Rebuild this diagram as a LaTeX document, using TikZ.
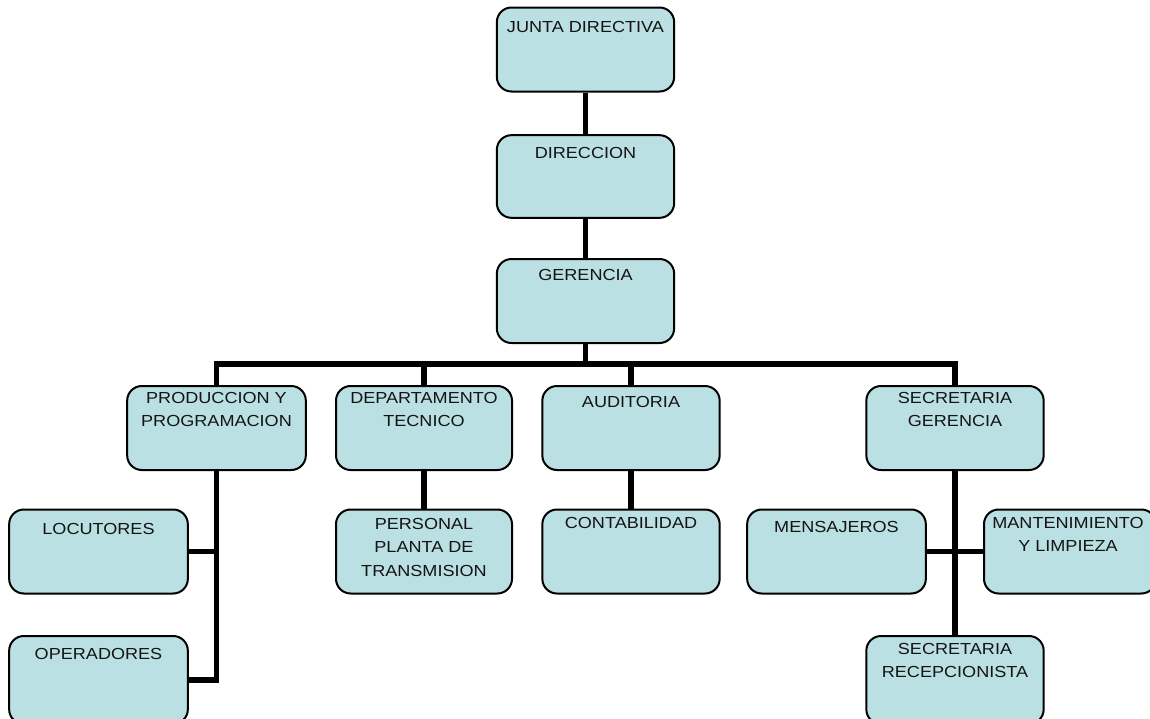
\documentclass[tikz,border=0pt]{standalone}
\usepackage{fontspec}
\newfontfamily\arx[FakeStretch=1.13]{Liberation Sans}
\pgfdeclarelayer{bg}
\pgfsetlayers{bg,main}
\definecolor{boxfill}{RGB}{187,224,227}
\definecolor{txt}{RGB}{20,20,20}
\tikzset{
  box/.style={draw=black, line width=1.5pt, fill=boxfill, rounded corners=11pt, inner sep=0pt, minimum width=133pt, minimum height=63pt},
  lbl/.style={anchor=north, inner sep=0pt, align=center, text=txt, font=\arx\fontsize{12}{17.6}\selectfont},
  conn/.style={draw=black, line width=4.4pt}
}
\begin{document}
\begin{tikzpicture}[x=0.75pt, y=-0.75pt]
\useasboundingbox (0,0) rectangle (1150,718);
\clip (0,0) rectangle (1150,718);
% boxes
\node[box] (jd)  at (585.5,49.5) {};
\node[box, minimum height=62pt] (dir) at (585.5,176.5) {};
\node[box] (ger) at (585.5,301) {};
\node[box, minimum width=134pt] (prod) at (216.5,428) {};
\node[box, minimum width=132pt] (dep) at (424,428) {};
\node[box] (aud) at (631,428) {};
\node[box] (sec) at (955,428) {};
\node[box, minimum width=134pt] (loc) at (98.5,551.5) {};
\node[box, minimum width=134pt, minimum height=66pt] (ope) at (98.5,680) {};
\node[box, minimum width=132pt] (per) at (424,551.5) {};
\node[box] (con) at (631,551.5) {};
\node[box, minimum width=134pt] (men) at (836.5,551.5) {};
\node[box, minimum width=129pt] (man) at (1070,551.5) {};
\node[box, minimum height=66pt] (rec) at (955,680) {};
% labels
\node[lbl] (tjd) at (585.5,21) {JUNTA DIRECTIVA};
\node[lbl] (tdir) at (585.5,147) {DIRECCION};
\node[lbl] (tger) at (585.5,269) {GERENCIA};
\node[lbl] (tprod) at (216.5,392) {PRODUCCION Y\\PROGRAMACION};
\node[lbl] (tdep) at (424,392) {DEPARTAMENTO\\TECNICO};
\node[lbl] (taud) at (631,396) {AUDITORIA};
\node[lbl] (tsec) at (955,392) {SECRETARIA\\GERENCIA};
\node[lbl] (tloc) at (98.5,523) {LOCUTORES};
\node[lbl] (tope) at (98.5,648) {OPERADORES};
\node[lbl] (tper) at (424,518) {PERSONAL\\PLANTA DE\\TRANSMISION};
\node[lbl] (tcon) at (631,517) {CONTABILIDAD};
\node[lbl] (tmen) at (836.5,521) {MENSAJEROS};
\node[lbl] (tman) at (1068,517) {MANTENIMIENTO\\Y LIMPIEZA};
\node[lbl] (trec) at (955,643) {SECRETARIA\\RECEPCIONISTA};
% connectors
\coordinate (bus) at (585.5,364);
\coordinate (opej) at (188,680);
\begin{pgfonlayer}{bg}
\draw[conn] (jd.south) -- (dir.north);
\draw[conn] (dir.south) -- (ger.north);
\draw[conn] (ger.south) -- (bus);
\draw[conn] (prod.north) |- (bus);
\draw[conn] (sec.north) |- (bus);
\draw[conn] (dep.north) -- (dep.north |- bus);
\draw[conn] (aud.north) -- (aud.north |- bus);
\draw[conn] (prod.south) |- (ope.east);
\draw[conn] (loc.east) -- (loc.east -| prod.south);
\draw[conn] (dep.south) -- (per.north);
\draw[conn] (aud.south) -- (con.north);
\draw[conn] (sec.south) -- (rec.north);
\draw[conn] (men.east) -- (man.west);
\end{pgfonlayer}
\end{tikzpicture}
\end{document}
